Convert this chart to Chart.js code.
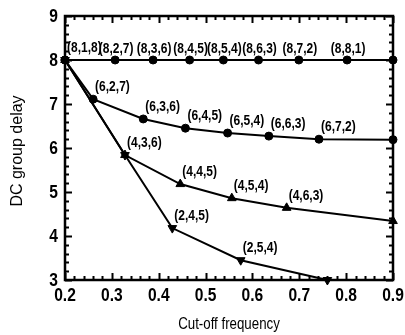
<!DOCTYPE html>
<html>
<head>
<meta charset="utf-8">
<script src="https://cdn.jsdelivr.net/npm/chart.js@4"></script>
<style>
  html, body { margin: 0; padding: 0; background: #fff; }
  #wrap { width: 405px; height: 335px; position: relative; }
</style>
</head>
<body>
<div id="wrap"><canvas id="delayChart"></canvas></div>
<script>
// Dados (frequência de corte x atraso de grupo DC)
const xs8 = [0.2, 0.307, 0.388, 0.466, 0.538, 0.613, 0.699, 0.802, 0.9];
const ys8 = [8, 8, 8, 8, 8, 8, 8, 8, 8];
const lbl8 = ['(8,1,8)', '(8,2,7)', '(8,3,6)', '(8,4,5)', '(8,5,4)', '(8,6,3)', '(8,7,2)', '(8,8,1)', ''];

const xs6 = [0.2, 0.26, 0.367, 0.457, 0.547, 0.635, 0.742, 0.9];
const ys6 = [8, 7.11, 6.66, 6.45, 6.34, 6.27, 6.20, 6.19];
const lbl6 = ['', '(6,2,7)', '(6,3,6)', '(6,4,5)', '(6,5,4)', '(6,6,3)', '(6,7,2)', ''];

const xs4 = [0.2, 0.328, 0.446, 0.556, 0.673, 0.9];
const ys4 = [8, 5.84, 5.18, 4.86, 4.64, 4.34];
const lbl4 = ['', '(4,3,6)', '(4,4,5)', '(4,5,4)', '(4,6,3)', ''];

const xs2 = [0.2, 0.328, 0.429, 0.575, 0.76];
const ys2 = [8, 5.84, 4.18, 3.45, 3.0];
const lbl2 = ['', '', '(2,4,5)', '(2,5,4)', ''];

const xTickLabels = ['0.2', '0.3', '0.4', '0.5', '0.6', '0.7', '0.8', '0.9'];
const yTickLabels = ['3', '4', '5', '6', '7', '8', '9'];
const xTitle = 'Cut-off frequency';
const yTitle = 'DC group delay';

const pts = (xs, ys) => xs.map((v, i) => ({ x: v, y: ys[i] }));
const sans = "'Liberation Sans', Arial, sans-serif";

function serie(xs, ys, labels, style, rot, radius, align) {
    return {
        data: pts(xs, ys),
        labels: labels,
        align: align,
        borderColor: '#000',
        backgroundColor: '#000',
        borderWidth: 2,
        pointStyle: style,
        pointRotation: rot,
        pointRadius: radius,
        pointBorderWidth: 1,
        tension: 0,
        clip: false
    };
}

// texto estreito (simula fonte condensada)
function narrowText(ctx, t, x, y, align, sx, rot) {
    ctx.save();
    ctx.translate(x, y);
    if (rot) ctx.rotate(rot);
    ctx.scale(sx, 1);
    ctx.textAlign = align;
    ctx.fillText(t, 0, 0);
    ctx.restore();
}

// Ticks internos, moldura e rótulos
const framePlugin = {
    id: 'frame',
    afterDraw(chart) {
        const { ctx, chartArea: a, scales: { x, y } } = chart;
        ctx.save();
        ctx.strokeStyle = '#000';
        ctx.lineWidth = 2;
        for (let k = 0; k <= 35; k++) {
            const v = 0.2 + k * 0.02;
            const px = Math.round(x.getPixelForValue(v)) + 0.5;
            const len = k % 5 === 0 ? 7 : 4;
            ctx.beginPath();
            ctx.moveTo(px, a.bottom); ctx.lineTo(px, a.bottom - len);
            ctx.moveTo(px, a.top); ctx.lineTo(px, a.top + len);
            ctx.stroke();
        }
        for (let k = 0; k <= 30; k++) {
            const v = 3 + k * 0.2;
            const py = Math.round(y.getPixelForValue(v)) + 0.5;
            const len = k % 5 === 0 ? 7 : 4;
            ctx.beginPath();
            ctx.moveTo(a.left, py); ctx.lineTo(a.left + len, py);
            ctx.moveTo(a.right, py); ctx.lineTo(a.right - len, py);
            ctx.stroke();
        }
        ctx.lineWidth = 2.5;
        ctx.strokeRect(a.left, a.top, a.right - a.left, a.bottom - a.top);

        // rótulos dos eixos
        ctx.fillStyle = '#000';
        ctx.font = 'bold 19px ' + sans;
        ctx.textBaseline = 'middle';
        xTickLabels.forEach(t => {
            narrowText(ctx, t, x.getPixelForValue(parseFloat(t)), 296, 'center', 0.82);
        });
        yTickLabels.forEach(t => {
            narrowText(ctx, t, 58, y.getPixelForValue(parseFloat(t)) + 1, 'right', 0.82);
        });

        // títulos
        ctx.font = '16px ' + sans;
        narrowText(ctx, xTitle, (a.left + a.right) / 2, 325, 'center', 0.83);
        narrowText(ctx, yTitle, 18, 151, 'center', 1, -Math.PI / 2);
        ctx.restore();
    },
    afterDatasetsDraw(chart) {
        const ctx = chart.ctx;
        ctx.save();
        ctx.fillStyle = '#000';
        ctx.font = 'bold 15px ' + sans;
        ctx.textBaseline = 'middle';
        chart.data.datasets.forEach((ds, i) => {
            const meta = chart.getDatasetMeta(i);
            ds.labels.forEach((t, j) => {
                if (!t) return;
                const p = meta.data[j];
                if (ds.align === 'center' && j > 0) {
                    narrowText(ctx, t, p.x + 1, p.y - 11, 'center', 0.8);
                } else {
                    narrowText(ctx, t, p.x + 2, p.y - 12, 'left', 0.8);
                }
            });
        });
        ctx.restore();
    }
};

const ctx = document.getElementById('delayChart').getContext('2d');
new Chart(ctx, {
    type: 'line',
    data: {
        datasets: [
            serie(xs8, ys8, lbl8, 'circle', 0, 4, 'center'),
            serie(xs6, ys6, lbl6, 'circle', 0, 4, 'left'),
            serie(xs4, ys4, lbl4, 'triangle', 0, 5, 'left'),
            serie(xs2, ys2, lbl2, 'triangle', 180, 5, 'left')
        ]
    },
    options: {
        responsive: true,
        maintainAspectRatio: false,
        animation: false,
        layout: { padding: { top: 16, right: 12, left: 0, bottom: 0 } },
        plugins: { legend: { display: false }, tooltip: { enabled: false } },
        scales: {
            x: {
                type: 'linear',
                min: 0.2,
                max: 0.9,
                afterFit(s) { s.height = 55; s.paddingLeft = 0; s.paddingRight = 0; },
                grid: { display: false, drawTicks: false },
                border: { display: false },
                ticks: { display: false, stepSize: 0.1 },
                title: { display: false }
            },
            y: {
                min: 3,
                max: 9,
                afterFit(s) { s.width = 65; s.paddingTop = 0; s.paddingBottom = 0; },
                grid: { display: false, drawTicks: false },
                border: { display: false },
                ticks: { display: false, stepSize: 1 },
                title: { display: false }
            }
        }
    },
    plugins: [framePlugin]
});
</script>
</body>
</html>
